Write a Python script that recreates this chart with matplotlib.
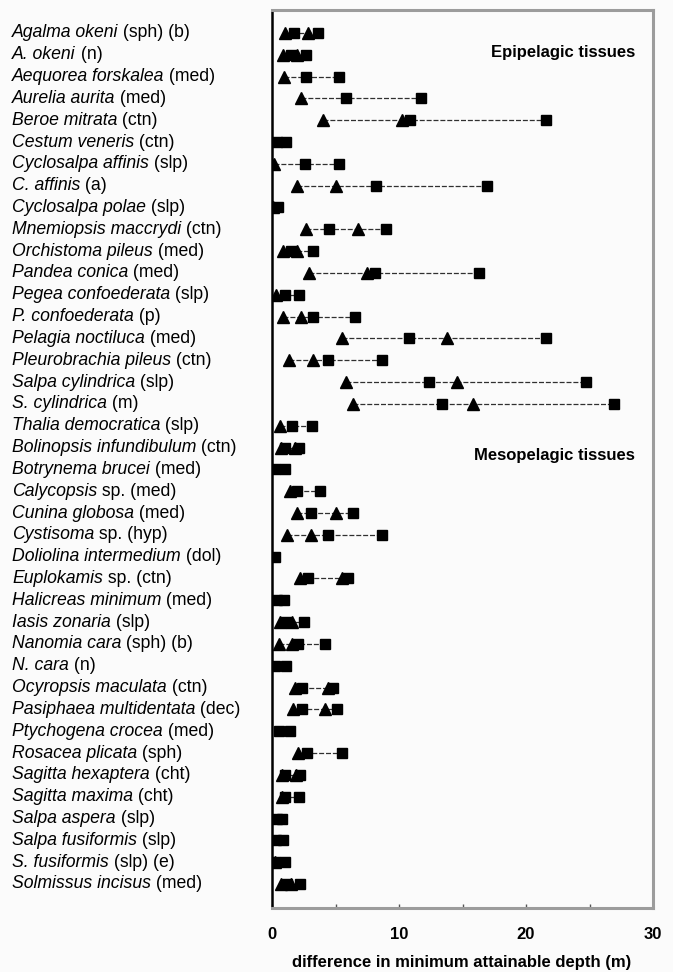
import numpy as np
import matplotlib
matplotlib.use("Agg")
import matplotlib.pyplot as plt
from matplotlib.transforms import blended_transform_factory

plt.rcParams["font.family"] = ["Liberation Sans", "DejaVu Sans"]

nan = np.nan

# species (italic) and the group / tissue tag after it
species = [
    "Agalma okeni", "A. okeni", "Aequorea forskalea", "Aurelia aurita",
    "Beroe mitrata", "Cestum veneris", "Cyclosalpa affinis", "C. affinis",
    "Cyclosalpa polae", "Mnemiopsis maccrydi", "Orchistoma pileus",
    "Pandea conica", "Pegea confoederata", "P. confoederata",
    "Pelagia noctiluca", "Pleurobrachia pileus", "Salpa cylindrica",
    "S. cylindrica", "Thalia democratica", "Bolinopsis infundibulum",
    "Botrynema brucei", "Calycopsis", "Cunina globosa", "Cystisoma",
    "Doliolina intermedium", "Euplokamis", "Halicreas minimum",
    "Iasis zonaria", "Nanomia cara", "N. cara", "Ocyropsis maculata",
    "Pasiphaea multidentata", "Ptychogena crocea", "Rosacea plicata",
    "Sagitta hexaptera", "Sagitta maxima", "Salpa aspera",
    "Salpa fusiformis", "S. fusiformis", "Solmissus incisus",
]
tags = [
    "(sph) (b)", "(n)", "(med)", "(med)", "(ctn)", "(ctn)", "(slp)", "(a)",
    "(slp)", "(ctn)", "(med)", "(med)", "(slp)", "(p)", "(med)", "(ctn)",
    "(slp)", "(m)", "(slp)", "(ctn)", "(med)", "sp. (med)", "(med)",
    "sp. (hyp)", "(dol)", "sp. (ctn)", "(med)", "(slp)", "(sph) (b)", "(n)",
    "(ctn)", "(dec)", "(med)", "(sph)", "(cht)", "(cht)", "(slp)", "(slp)",
    "(slp) (e)", "(med)",
]

# depth differences (m); triangles and squares, two of each per species
tri_1 = [1.0, 0.9, 0.95, 2.3, 4.0, nan, 0.15, 2.0, 0.1, 2.7,
         0.9, 2.95, 0.3, 0.9, 5.5, 1.3, 5.8, 6.35, 0.65, 0.7,
         nan, 1.4, 2.0, 1.2, nan, 2.2, nan, 0.63, 0.58, nan,
         1.8, 1.63, nan, 2.07, 0.75, 0.75, nan, nan, 0.2, 0.7]
sq_1 = [1.7, 1.5, 2.7, 5.8, 10.9, 0.4, 2.6, 8.2, 0.5, 4.5,
        1.5, 8.1, 1.0, 3.25, 10.8, 4.4, 12.4, 13.4, 1.55, 1.0,
        0.2, 1.95, 3.1, 4.4, 0.2, 2.86, 0.37, 1.1, 2.07, 0.24,
        2.36, 2.34, 0.55, 2.73, 1.0, 1.0, 0.37, 0.3, 0.24, 1.15]
tri_2 = [2.8, 2.0, nan, nan, 10.2, nan, nan, 5.0, nan, 6.75,
         2.0, 7.45, nan, 2.26, 13.8, 3.25, 14.6, 15.85, nan, 1.8,
         nan, nan, 5.0, 3.05, nan, 5.5, nan, 1.6, 1.6, nan,
         4.44, 4.17, nan, nan, 1.9, nan, nan, nan, nan, 1.5]
sq_2 = [3.6, 2.7, 5.3, 11.7, 21.6, 1.1, 5.3, 16.9, nan, 9.0,
        3.25, 16.3, 2.15, 6.5, 21.6, 8.7, 24.7, 26.95, 3.15, 2.1,
        1.0, 3.75, 6.35, 8.7, nan, 6.0, 0.97, 2.55, 4.15, 1.07,
        4.78, 5.12, 1.42, 5.5, 2.23, 2.15, 0.76, 0.9, 1.02, 2.2]

fig = plt.figure(figsize=(6.73, 9.72), dpi=100)
fig.patch.set_facecolor("#fbfbfb")
ax = fig.add_axes([272 / 673, 1 - 908 / 972, 381 / 673, 898 / 972])
ax.set_facecolor("#fbfbfb")

rows = np.arange(len(species))
vals = np.array([tri_1, sq_1, tri_2, sq_2], dtype=float)

# dashed span from the smallest to the largest value in each row
lo = np.nanmin(vals, axis=0)
hi = np.nanmax(vals, axis=0)
ax.hlines(rows, lo, hi, colors="#303030", linewidth=0.9,
          linestyles=(0, (4, 1.5)), zorder=1)

for t in (tri_1, tri_2):
    ax.plot(t, rows, ls="none", marker="^", ms=8.6, color="black",
            mec="black", zorder=3)
for s in (sq_1, sq_2):
    ax.plot(s, rows, ls="none", marker="s", ms=7.6, color="black",
            mec="black", zorder=3)

ax.set_xlim(0, 30)
ax.set_ylim(40.1, -1.05)
ax.set_yticks([])
ax.set_xticks([0, 10, 20, 30])
ax.set_xticks([5, 15, 25], minor=True)
ax.tick_params(axis="x", which="both", direction="in", length=3,
               width=1, color="#555555", pad=14)
for lab in ax.get_xticklabels():
    lab.set_fontsize(12)
    lab.set_fontweight("bold")

ax.spines["left"].set_color("black")
ax.spines["left"].set_linewidth(1.8)
for side in ("top", "right", "bottom"):
    ax.spines[side].set_color("#9c9c9c")
    ax.spines[side].set_linewidth(2.2)

# species labels down the left side: italic name, then the tag in roman
trans = blended_transform_factory(fig.transFigure, ax.transData)
for i, (sp, tg) in enumerate(zip(species, tags)):
    name = ax.text(12 / 673, i, sp, transform=trans, ha="left", va="center",
                   fontsize=12.7, style="italic", color="black")
    ax.annotate(" " + tg, xy=(1, 0), xycoords=name, ha="left", va="bottom",
                fontsize=12.7, color="black")

ax.text(28.6, 0.9, "Epipelagic tissues", ha="right", va="center",
        fontsize=12, fontweight="bold")
ax.text(28.6, 19.35, "Mesopelagic tissues", ha="right", va="center",
        fontsize=12, fontweight="bold")

fig.text(462 / 673, 1 - 962 / 972, "difference in minimum attainable depth (m)",
         ha="center", va="center", fontsize=12, fontweight="bold")

fig.savefig("out.png", dpi=100, facecolor=fig.get_facecolor())
